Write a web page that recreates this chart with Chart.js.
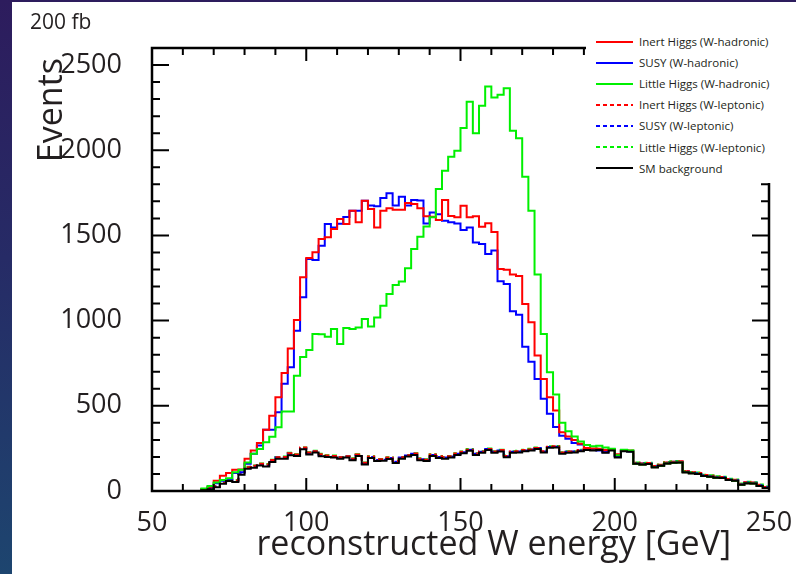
<!DOCTYPE html>
<html lang="en">

<head>
    <meta charset="UTF-8">
    <title>Reconstructed W energy</title>
    <script src="https://cdn.jsdelivr.net/npm/chart.js"></script>
    <style>
        body {
            margin: 0;
            width: 796px;
            height: 574px;
            overflow: hidden;
            background: linear-gradient(180deg, #2d1c5d 0%, #262b66 45%, #1d456f 100%);
        }

        #sheet {
            position: absolute;
            left: 12px;
            top: 2px;
            width: 784px;
            height: 572px;
            background: #fff;
        }

        #legend {
            position: absolute;
            left: 574px;
            top: 29px;
            width: 210px;
            height: 152px;
            background: #fff;
            font-family: 'Open Sans', sans-serif;
            font-size: 11.5px;
            color: #231f20;
        }

        .row {
            height: 21.1px;
            display: flex;
            align-items: center;
            white-space: nowrap;
        }

        .swatch {
            width: 37px;
            height: 2px;
            margin-left: 10px;
            margin-right: 6px;
        }
    </style>
</head>

<body>
    <div id="sheet">
        <canvas id="chart" width="784" height="572"></canvas>
        <div id="legend"></div>
    </div>

    <script>
        // histogram binning: 100 bins of 2 GeV from 50 to 250
        const binLow = 50;
        const binWidth = 2;
        const xTicks = [50, 100, 150, 200, 250];
        const yTicks = [0, 500, 1000, 1500, 2000, 2500];

        const seriesNames = [
            'Inert Higgs (W-hadronic)',
            'SUSY (W-hadronic)',
            'Little Higgs (W-hadronic)',
            'Inert Higgs (W-leptonic)',
            'SUSY (W-leptonic)',
            'Little Higgs (W-leptonic)',
            'SM background'
        ];

        const inertHad = [
            0, 0, 0, 0, 0, 0, 0, 0, 10, 25,
            60, 90, 105, 124, 126, 189, 237, 281, 359, 441,
            550, 693, 836, 1004, 1254, 1368, 1401, 1479, 1490, 1538,
            1596, 1567, 1645, 1577, 1704, 1655, 1547, 1645, 1659, 1650,
            1650, 1690, 1685, 1660, 1612, 1610, 1590, 1708, 1614, 1606,
            1674, 1606, 1612, 1551, 1571, 1520, 1303, 1299, 1270, 1262,
            1098, 990, 795, 658, 550, 472, 345, 320, 300, 277,
            253, 250, 245, 240, 240, 215, 240, 236, 160, 156,
            158, 140, 148, 162, 166, 168, 110, 104, 100, 88,
            84, 78, 76, 64, 60, 36, 46, 44, 30, 18
        ];
        const susyHad = [
            0, 0, 0, 0, 0, 0, 0, 0, 8, 20,
            45, 60, 70, 105, 110, 160, 218, 267, 359, 359,
            462, 629, 726, 941, 1137, 1362, 1356, 1440, 1567, 1547,
            1569, 1608, 1645, 1645, 1704, 1675, 1671, 1720, 1747, 1675,
            1727, 1675, 1708, 1705, 1570, 1635, 1625, 1586, 1577, 1570,
            1532, 1547, 1459, 1450, 1391, 1411, 1231, 1215, 1055, 1035,
            847, 758, 658, 541, 453, 375, 325, 306, 281, 273,
            247, 247, 237, 228, 240, 205, 236, 233, 160, 156,
            158, 140, 148, 162, 166, 168, 110, 104, 100, 88,
            84, 78, 76, 64, 60, 36, 46, 44, 30, 18
        ];
        const littleHad = [
            0, 0, 0, 0, 0, 0, 0, 0, 15, 30,
            50, 65, 75, 110, 125, 168, 218, 247, 286, 319,
            374, 466, 466, 677, 786, 828, 922, 920, 906, 951,
            863, 957, 951, 960, 1010, 966, 1019, 1087, 1156, 1209,
            1230, 1308, 1420, 1492, 1552, 1606, 1772, 1880, 1962, 1997,
            2130, 2284, 2100, 2261, 2374, 2310, 2325, 2364, 2114, 2071,
            1845, 1645, 1270, 922, 697, 566, 400, 350, 320, 290,
            270, 262, 265, 255, 248, 210, 242, 238, 160, 156,
            158, 140, 148, 162, 166, 168, 110, 104, 100, 88,
            84, 78, 76, 64, 60, 36, 46, 44, 30, 18
        ];
        const inertLep = [
            0, 0, 0, 0, 0, 0, 0, 0, 8, 14,
            28, 50, 66, 62, 108, 140, 148, 160, 156, 182,
            198, 200, 222, 214, 255, 226, 234, 216, 208, 206,
            198, 204, 190, 214, 166, 202, 186, 186, 196, 176,
            198, 210, 220, 190, 184, 214, 204, 198, 204, 220,
            230, 242, 220, 232, 246, 232, 240, 206, 232, 234,
            240, 244, 252, 234, 260, 262, 226, 232, 232, 240,
            246, 244, 248, 232, 242, 204, 238, 236, 166, 162,
            164, 146, 154, 168, 172, 174, 116, 110, 106, 94,
            90, 84, 82, 70, 66, 42, 52, 50, 36, 24
        ];
        const susyLep = [
            0, 0, 0, 0, 0, 0, 0, 0, 7, 12,
            26, 48, 63, 58, 104, 136, 142, 156, 150, 178,
            196, 196, 218, 212, 252, 222, 232, 212, 206, 204,
            196, 202, 186, 212, 162, 200, 182, 184, 194, 172,
            196, 208, 218, 186, 182, 212, 200, 196, 202, 218,
            228, 242, 218, 230, 246, 230, 238, 204, 230, 232,
            238, 244, 252, 232, 258, 260, 224, 230, 232, 238,
            246, 242, 246, 230, 242, 202, 238, 234, 164, 162,
            162, 146, 152, 166, 172, 172, 116, 108, 104, 92,
            88, 82, 80, 68, 64, 40, 50, 48, 34, 22
        ];
        const littleLep = [
            0, 0, 0, 0, 0, 0, 0, 0, 10, 16,
            30, 52, 68, 64, 110, 142, 150, 162, 158, 184,
            200, 202, 224, 216, 256, 228, 236, 218, 210, 208,
            200, 206, 192, 216, 168, 204, 188, 188, 198, 178,
            200, 212, 222, 192, 186, 216, 206, 200, 206, 222,
            232, 246, 222, 234, 250, 234, 242, 208, 234, 236,
            242, 248, 256, 236, 262, 264, 228, 234, 234, 242,
            250, 246, 250, 234, 246, 206, 240, 238, 168, 164,
            166, 148, 156, 170, 174, 176, 118, 112, 108, 96,
            92, 86, 84, 72, 68, 44, 54, 52, 38, 26
        ];
        const smBackground = [
            0, 0, 0, 0, 0, 0, 0, 0, 5, 10,
            22, 42, 58, 53, 95, 130, 136, 150, 144, 170,
            190, 189, 210, 205, 245, 214, 226, 204, 200, 196,
            190, 196, 180, 206, 155, 194, 176, 178, 188, 165,
            190, 202, 212, 180, 176, 206, 194, 190, 196, 212,
            222, 236, 212, 225, 240, 225, 232, 198, 225, 226,
            233, 238, 246, 226, 254, 256, 218, 225, 226, 233,
            241, 237, 241, 225, 237, 197, 233, 230, 160, 156,
            158, 140, 148, 162, 166, 168, 110, 104, 100, 88,
            84, 78, 76, 64, 60, 36, 46, 44, 30, 18
        ];

        const seriesValues = [inertHad, susyHad, littleHad, inertLep, susyLep, littleLep, smBackground];
        const seriesColors = ['#ff0000', '#0000ff', '#00f000', '#ff0000', '#0000ff', '#00f000', '#000000'];
        const seriesDashed = [false, false, false, true, true, true, false];
        const drawOrder = [2, 3, 1, 4, 5, 6, 0]; // background on top, then green

        // one point per bin low edge, plus the closing edge at 250
        function histPoints(values) {
            const pts = values.map((v, i) => ({ x: binLow + i * binWidth, y: v }));
            pts.push({ x: binLow + values.length * binWidth, y: values[values.length - 1] });
            return pts;
        }

        const datasets = seriesNames.map((name, k) => ({
            label: name,
            data: histPoints(seriesValues[k]),
            borderColor: seriesColors[k],
            borderWidth: 2,
            borderDash: seriesDashed[k] ? [5, 3] : [],
            stepped: true,
            pointRadius: 0,
            fill: false,
            order: drawOrder[k]
        }));

        // ROOT-like frame with inside ticks and the axis titles
        const rootFrame = {
            id: 'rootFrame',
            afterDatasetsDraw(chart) {
                const { ctx, chartArea: a, scales: { x, y } } = chart;
                ctx.save();
                ctx.strokeStyle = '#000';
                ctx.lineWidth = 2;
                ctx.beginPath();
                for (let v = 60; v < 250; v += 10) {
                    const px = x.getPixelForValue(v);
                    const len = v % 50 === 0 ? 13 : 7;
                    ctx.moveTo(px, a.bottom);
                    ctx.lineTo(px, a.bottom - len);
                    ctx.moveTo(px, a.top);
                    ctx.lineTo(px, a.top + len);
                }
                for (let v = 100; v < 2600; v += 100) {
                    const py = y.getPixelForValue(v);
                    const len = v % 500 === 0 ? 17 : 8;
                    ctx.moveTo(a.left, py);
                    ctx.lineTo(a.left + len, py);
                    ctx.moveTo(a.right, py);
                    ctx.lineTo(a.right - len, py);
                }
                ctx.stroke();
                ctx.lineWidth = 2.5;
                ctx.strokeRect(a.left, a.top, a.right - a.left, a.bottom - a.top);

                ctx.fillStyle = '#231f20';
                ctx.font = '34px "Open Sans"';
                ctx.textAlign = 'right';
                ctx.textBaseline = 'alphabetic';
                ctx.fillText('reconstructed W energy [GeV]', a.right - 38, a.bottom + 64);
                ctx.translate(a.left - 90, a.top + 10);
                ctx.rotate(-Math.PI / 2);
                ctx.fillText('Events', 0, 0);
                ctx.restore();
            }
        };

        Chart.defaults.font.family = "'Open Sans', sans-serif";
        Chart.defaults.color = '#231f20';

        new Chart(document.getElementById('chart'), {
            type: 'line',
            data: { datasets: datasets },
            options: {
                responsive: false,
                animation: false,
                layout: { padding: { left: 18, right: 27, top: 0, bottom: 0 } },
                plugins: {
                    legend: { display: false },
                    tooltip: { enabled: false },
                    title: {
                        display: true,
                        text: '200 fb',
                        align: 'start',
                        font: { size: 21, weight: 'normal' },
                        padding: { top: 8, bottom: 12.8 }
                    }
                },
                scales: {
                    x: {
                        type: 'linear',
                        min: 50,
                        max: 250,
                        grid: { display: false },
                        border: { display: false },
                        ticks: { font: { size: 27 }, padding: 8, maxRotation: 0, callback: v => String(v) },
                        afterBuildTicks: s => { s.ticks = xTicks.map(v => ({ value: v })); },
                        afterFit: s => { s.height = 83; s.paddingLeft = 0; s.paddingRight = 0; }
                    },
                    y: {
                        type: 'linear',
                        min: 0,
                        max: 2600,
                        grid: { display: false },
                        border: { display: false },
                        ticks: { font: { size: 27 }, padding: 22, callback: v => String(v) },
                        afterBuildTicks: s => { s.ticks = yTicks.map(v => ({ value: v })); },
                        afterFit: s => { s.width = 122; s.paddingTop = 0; s.paddingBottom = 0; }
                    }
                }
            },
            plugins: [rootFrame]
        });

        // legend box in the top right corner, drawn over the frame
        const legendBox = document.getElementById('legend');
        seriesNames.forEach((name, k) => {
            const row = document.createElement('div');
            row.className = 'row';
            const sw = document.createElement('span');
            sw.className = 'swatch';
            sw.style.background = seriesDashed[k]
                ? `repeating-linear-gradient(90deg, ${seriesColors[k]} 0 4px, transparent 4px 7px)`
                : seriesColors[k];
            const txt = document.createElement('span');
            txt.textContent = name;
            row.appendChild(sw);
            row.appendChild(txt);
            legendBox.appendChild(row);
        });
    </script>
</body>

</html>
